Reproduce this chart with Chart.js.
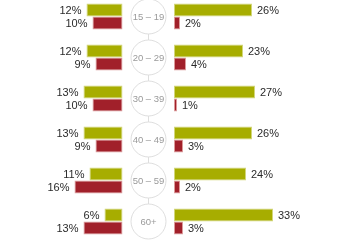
<!DOCTYPE html>
<html>
<head>
<meta charset="utf-8">
<script src="https://cdn.jsdelivr.net/npm/chart.js@4/dist/chart.umd.min.js"></script>
<style>
    html, body { margin: 0; padding: 0; background: #fff; overflow: hidden; }
    #wrap { position: absolute; left: 0; top: -4px; width: 360px; height: 246px; }
</style>
</head>
<body>
<div id="wrap"><canvas id="chartEdades"></canvas></div>
<script>
    // Datos
    const edades = ['15 – 19', '20 – 29', '30 – 39', '40 – 49', '50 – 59', '60+'];
    const izqVerde = [12, 12, 13, 13, 11, 6];
    const izqRojo = [10, 9, 10, 9, 16, 13];
    const derVerde = [26, 23, 27, 26, 24, 33];
    const derRojo = [2, 4, 1, 3, 2, 3];

    const verde = '#a7ad00';
    const verdeBorde = '#d2d67a';
    const rojo = '#a1202a';
    const rojoBorde = '#dc9a9a';

    // Círculos con la edad en medio
    const circulos = {
        id: 'circulos',
        afterDatasetsDraw(chart) {
            const ctx = chart.ctx;
            const y = chart.scales.y;
            const cx = 148.5, r = 17.5;
            ctx.save();
            ctx.strokeStyle = '#dedede';
            ctx.lineWidth = 1;
            // línea vertical que une los círculos
            ctx.beginPath();
            ctx.moveTo(cx, y.getPixelForValue(0));
            ctx.lineTo(cx, y.getPixelForValue(edades.length - 1));
            ctx.stroke();
            edades.forEach((e, i) => {
                const cy = y.getPixelForValue(i);
                ctx.beginPath();
                ctx.arc(cx, cy, r, 0, Math.PI * 2);
                ctx.fillStyle = '#fff';
                ctx.fill();
                ctx.stroke();
                ctx.fillStyle = '#9a9a9a';
                ctx.font = '9.5px "Liberation Sans", Arial, sans-serif';
                ctx.textAlign = 'center';
                ctx.textBaseline = 'middle';
                ctx.fillText(e, cx, cy + 0.5);
            });
            ctx.restore();
        }
    };

    // Etiquetas de porcentaje junto a cada barra
    const etiquetas = {
        id: 'etiquetas',
        afterDatasetsDraw(chart) {
            const ctx = chart.ctx;
            ctx.save();
            ctx.font = '11px "Liberation Sans", Arial, sans-serif';
            ctx.fillStyle = '#2a2a2a';
            ctx.textBaseline = 'middle';
            chart.data.datasets.forEach((ds, di) => {
                const meta = chart.getDatasetMeta(di);
                const izquierda = ds.xAxisID === 'xIzq';
                meta.data.forEach((bar, i) => {
                    const texto = ds.data[i] + '%';
                    if (izquierda) {
                        ctx.textAlign = 'right';
                        ctx.fillText(texto, bar.x - 5, bar.y + 0.5);
                    } else {
                        ctx.textAlign = 'left';
                        ctx.fillText(texto, bar.x + 5, bar.y + 0.5);
                    }
                });
            });
            ctx.restore();
        }
    };

    const comun = {
        borderWidth: 1,
        borderSkipped: false,
        categoryPercentage: 0.634,
        barPercentage: 1
    };

    new Chart(document.getElementById('chartEdades'), {
        type: 'bar',
        data: {
            labels: edades,
            datasets: [
                { ...comun, label: 'izq verde', data: izqVerde, xAxisID: 'xIzq', stack: 'verde',
                  backgroundColor: verde, borderColor: verdeBorde },
                { ...comun, label: 'izq rojo', data: izqRojo, xAxisID: 'xIzq', stack: 'rojo',
                  backgroundColor: rojo, borderColor: rojoBorde },
                { ...comun, label: 'der verde', data: derVerde, xAxisID: 'xDer', stack: 'verde',
                  backgroundColor: verde, borderColor: verdeBorde },
                { ...comun, label: 'der rojo', data: derRojo, xAxisID: 'xDer', stack: 'rojo',
                  backgroundColor: rojo, borderColor: rojoBorde }
            ]
        },
        options: {
            indexAxis: 'y',
            responsive: true,
            maintainAspectRatio: false,
            animation: false,
            layout: { padding: 0 },
            plugins: {
                legend: { display: false },
                tooltip: { enabled: false }
            },
            scales: {
                y: { display: false },
                // 3 px por punto; el cero izquierdo cae en x≈122.5 y el derecho en x≈174
                xIzq: { type: 'linear', display: false, reverse: true, min: -79.17, max: 40.83, stacked: true },
                xDer: { type: 'linear', display: false, min: -58, max: 62, stacked: true }
            }
        },
        plugins: [circulos, etiquetas]
    });
</script>
</body>
</html>
